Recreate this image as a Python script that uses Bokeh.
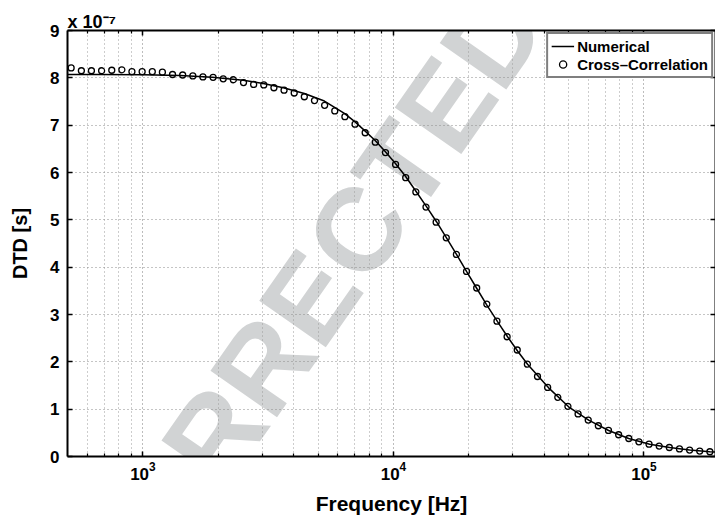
from bokeh.plotting import figure
from bokeh.models import (FixedTicker, LogAxis, LinearAxis, Label, Legend, LegendItem,
                          CustomJSTickFormatter, Range1d)
from bokeh.embed import file_html
from bokeh.resources import INLINE

# Numerical differential time delay (units of 1e-7 s) vs frequency (Hz)
freq_num = [500, 675, 1000, 1409, 1892, 2515, 3024, 3635, 4410, 5301, 6372, 6988, 7659, 8472,
            9290, 10186, 11169, 12278, 13549, 14852, 16283, 17853, 19575, 21460, 23530, 26030,
            28540, 31290, 34300, 41630, 50030, 60130, 72280, 86900, 105400, 126700, 152300,
            183100, 195300]
dtd_num = [8.07, 8.07, 8.065, 8.05, 8.01, 7.95, 7.88, 7.79, 7.67, 7.51, 7.25, 7.08, 6.89, 6.67,
           6.44, 6.19, 5.92, 5.61, 5.28, 4.96, 4.62, 4.27, 3.91, 3.56, 3.21, 2.85,
           2.53, 2.23, 1.95, 1.45, 1.05, 0.77, 0.55, 0.38, 0.26, 0.19, 0.135,
           0.10, 0.09]

# Cross-correlation estimates (units of 1e-7 s)
freq_cc = [517, 568, 623, 684, 751, 824, 904, 993, 1090, 1196,
           1313, 1441, 1582, 1736, 1906, 2092, 2296, 2521, 2767, 3037,
           3334, 3659, 4017, 4409, 4840, 5313, 5832, 6401, 7027, 7712,
           8466, 9293, 10198, 11194, 12288, 13490, 14806, 16253, 17841, 19578,
           21493, 23593, 25893, 28424, 31201, 34250, 37590, 41263, 45295, 49713,
           54575, 59908, 65750, 72177, 79231, 86975, 95459, 104786, 115030, 126250,
           138590, 152130, 166960, 183290]
dtd_cc = [8.21, 8.15, 8.15, 8.15, 8.16, 8.17, 8.13, 8.13, 8.13, 8.12,
          8.07, 8.06, 8.04, 8.02, 8.01, 7.98, 7.96, 7.90, 7.86, 7.85,
          7.79, 7.74, 7.68, 7.60, 7.52, 7.42, 7.30, 7.18, 7.02, 6.84,
          6.64, 6.42, 6.17, 5.89, 5.59, 5.27, 4.95, 4.62, 4.27, 3.91,
          3.56, 3.22, 2.86, 2.53, 2.25, 1.95, 1.69, 1.46, 1.25, 1.06,
          0.90, 0.77, 0.65, 0.55, 0.46, 0.38, 0.31, 0.26, 0.22, 0.19,
          0.16, 0.135, 0.115, 0.10]

x_major = [1e3, 1e4, 1e5]
x_minor = [600, 700, 800, 900,
           2000, 3000, 4000, 5000, 6000, 7000, 8000, 9000,
           20000, 30000, 40000, 50000, 60000, 70000, 80000, 90000]
y_ticks = [0, 1, 2, 3, 4, 5, 6, 7, 8, 9]

FONT = "Liberation Sans"

p = figure(width=715, height=517, x_axis_type="log",
           x_range=Range1d(500, 1.93e5), y_range=Range1d(0, 9),
           output_backend="svg", toolbar_location=None,
           min_border_left=67, min_border_right=0, min_border_top=30, min_border_bottom=61)
p.outline_line_color = None
p.background_fill_color = "white"
p.border_fill_color = "white"

# scale multiplier shown above the y axis
p.title.text = "x 10\u207b\u2077"
p.title.align = "left"
p.title.offset = 0
p.title.standoff = -3
p.title.text_font = FONT
p.title.text_font_size = "18px"
p.title.text_font_style = "bold"
p.title.text_color = "black"

# watermark behind everything
p.add_layout(Label(x=4345, y=3.12, text="CORRECTED", angle=0.96, angle_units="rad",
                   text_font=FONT, text_font_size="118px", text_font_style="bold",
                   text_color="#d1d3d4", text_align="center", text_baseline="middle",
                   level="image"))

def style_axis(ax, labels=True):
    ax.axis_line_color = "black"
    ax.axis_line_width = 2
    ax.major_tick_line_color = "black"
    ax.major_tick_line_width = 1.5
    ax.major_tick_in = 5
    ax.major_tick_out = 0
    ax.minor_tick_line_color = "black"
    ax.minor_tick_line_width = 1.2
    ax.minor_tick_in = 3
    ax.minor_tick_out = 0
    ax.major_label_text_font = FONT
    ax.major_label_text_font_style = "bold"
    ax.major_label_text_color = "black"
    ax.axis_label_text_color = "black"
    if not labels:
        ax.formatter = CustomJSTickFormatter(code="return ''")
        ax.major_label_text_font_size = "0px"
        ax.major_label_standoff = 0

xb = p.xaxis[0]
xb.ticker = FixedTicker(ticks=x_major, minor_ticks=x_minor)
style_axis(xb)
xb.major_label_text_font_size = "17px"
xb.major_label_standoff = 5
xb.axis_label = "Frequency [Hz]"
xb.axis_label_text_font = FONT
xb.axis_label_text_font_size = "21px"
xb.axis_label_text_font_style = "bold"
xb.axis_label_standoff = 9

yl = p.yaxis[0]
yl.ticker = FixedTicker(ticks=y_ticks)
style_axis(yl)
yl.minor_tick_line_color = None
yl.major_label_text_font_size = "17px"
yl.major_label_standoff = 8
yl.axis_label = "DTD [s]"
yl.axis_label_text_font = FONT
yl.axis_label_text_font_size = "20px"
yl.axis_label_text_font_style = "bold"
yl.axis_label_standoff = 16

xt = LogAxis(ticker=FixedTicker(ticks=x_major, minor_ticks=x_minor))
style_axis(xt, labels=False)
p.add_layout(xt, "above")

yr = LinearAxis(ticker=FixedTicker(ticks=y_ticks))
style_axis(yr, labels=False)
yr.minor_tick_line_color = None
p.add_layout(yr, "right")

# dotted grid
p.xgrid.grid_line_color = "#7a7a7a"
p.xgrid.grid_line_dash = "1 3"
p.xgrid.minor_grid_line_color = "#9a9a9a"
p.xgrid.minor_grid_line_dash = "1 3"
p.ygrid.grid_line_color = "#8a8a8a"
p.ygrid.grid_line_dash = "1 3"

r_line = p.line(freq_num, dtd_num, line_color="black", line_width=1.5)
r_cc = p.scatter(freq_cc, dtd_cc, marker="circle", size=6, fill_color=None,
                 line_color="black", line_width=1.3)

legend = Legend(items=[LegendItem(label="Numerical", renderers=[r_line]),
                       LegendItem(label="Cross\u2013Correlation", renderers=[r_cc])],
                location="top_right", margin=2, padding=3, spacing=0,
                glyph_width=23, glyph_height=18, label_height=18, label_standoff=3,
                label_text_font=FONT, label_text_font_size="15px",
                label_text_font_style="bold", label_text_color="black",
                border_line_color="black", border_line_width=2,
                background_fill_color="white", background_fill_alpha=1)
p.add_layout(legend)

open("out.html", "w").write(file_html(p, INLINE))
